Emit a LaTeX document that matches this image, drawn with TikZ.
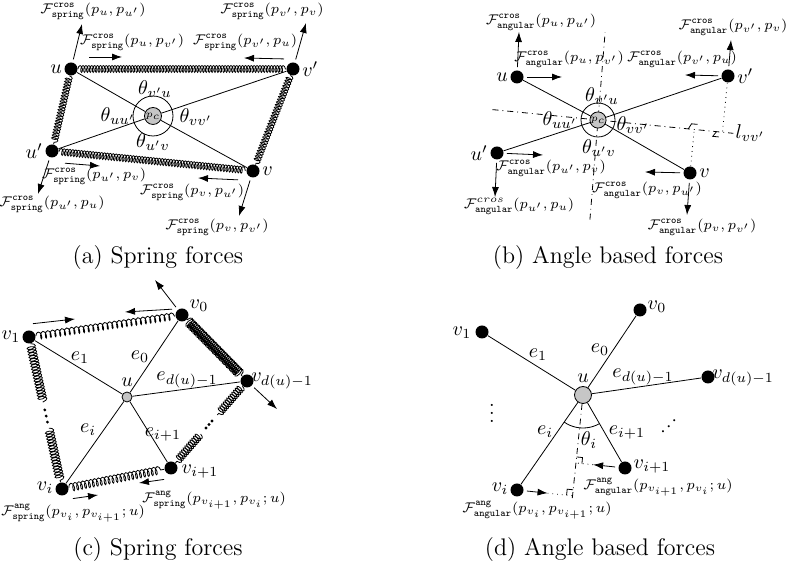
\documentclass[tikz,border=0pt]{standalone}
\usepackage{amsmath,amssymb}
\usetikzlibrary{arrows.meta,positioning,calc,decorations.pathmorphing}

\newcommand{\Fcs}[1]{\mathcal{F}^{\mathtt{cros}}_{\mathtt{spring}}(#1)}
\newcommand{\Fca}[1]{\mathcal{F}^{\mathtt{cros}}_{\mathtt{angular}}(#1)}
\newcommand{\Fas}[1]{\mathcal{F}^{\mathtt{ang}}_{\mathtt{spring}}(#1)}
\newcommand{\Faa}[1]{\mathcal{F}^{\mathtt{ang}}_{\mathtt{angular}}(#1)}

%% right angle mark: foot, point on the line, point off the line
\newcommand{\rmark}[3]{%
  \coordinate (rmA) at ($(#1)!3pt!(#2)$);
  \coordinate (rmB) at ($(#1)!3pt!(#3)$);
  \draw (rmA) -- ($(rmA)+(rmB)-(#1)$) -- (rmB);
}

\begin{document}
\begin{tikzpicture}[x=0.5pt, y=-0.5pt,
  vtx/.style={circle, fill=black, inner sep=0pt, minimum size=6.5pt},
  hub/.style={circle, draw, fill=gray!45, inner sep=0pt, minimum size=#1, font=\tiny},
  frc/.style={-{Latex[length=5pt,width=3.5pt]}, shorten <=1.5pt},
  flab/.style={font=\scriptsize, inner sep=0pt},
  lab/.style={inner sep=1pt},
  coilsp/.style 2 args={decorate, decoration={coil, aspect=0.45, amplitude=#1, segment length=#2}},
  bisec/.style={dash dot},
  proj/.style={dotted},
]

\useasboundingbox (0,0) rectangle (787,565);

%% ---------------- (a) cross spring forces ----------------
\node[vtx] (au)  at (71,69)   {};
\node[vtx] (avp) at (293,69)  {};
\node[vtx] (aup) at (52,151)  {};
\node[vtx] (av)  at (253,171) {};
\node[hub=8.5pt] (apc) at (153,116) {$p_c$};
\draw (apc) circle[radius=10pt];
\draw (au) -- (apc);
\draw (apc) -- (av);
\draw (aup) -- (apc);
\draw (apc) -- (avp);

\draw[coilsp={1.7pt}{1.45pt}] (au) -- (avp);
\draw[coilsp={1.7pt}{1.45pt}] (aup) -- (av);
\draw[coilsp={1.7pt}{1.45pt}] (au) -- (aup);
\draw[coilsp={1.7pt}{1.45pt}] (avp) -- (av);

\node[lab, left=0pt of au]   (lau)  {$u$};
\node[lab, right=0pt of avp] (lavp) {$v'$};
\node[lab, left=0pt of aup]  (laup) {$u'$};
\node[lab, right=0pt of av]  (lav)  {$v$};

\node[lab] (tha1) at (155,89)  {$\theta_{v'u}$};
\node[lab] (tha2) at (118,116) {$\theta_{uu'}$};
\node[lab] (tha3) at (196,117) {$\theta_{vv'}$};
\node[lab] (tha4) at (153,142) {$\theta_{u'v}$};

\coordinate (ea1) at (82,24);
\coordinate (sa2) at (86,57);   \coordinate (ea2) at (122,57);
\coordinate (sa3) at (287,59);  \coordinate (ea3) at (244,58);
\coordinate (ea4) at (306,23);
\coordinate (sa5) at (62,163);  \coordinate (ea5) at (100,166);
\coordinate (ea6) at (38,194);
\coordinate (sa7) at (241,180); \coordinate (ea7) at (198,178);
\coordinate (ea8) at (239,216);
\draw[frc] (au) -- (ea1);
\draw[frc] (sa2) -- (ea2);
\draw[frc] (sa3) -- (ea3);
\draw[frc] (avp) -- (ea4);
\draw[frc] (sa5) -- (ea5);
\draw[frc] (aup) -- (ea6);
\draw[frc] (sa7) -- (ea7);
\draw[frc] (av) -- (ea8);

\foreach \nm/\px/\py/\arg in {
  la1/93/11/{p_u,p_{u'}},
  la2/132/42/{p_u,p_{v'}},
  la3/245/42/{p_{v'},p_u},
  la4/272/11/{p_{v'},p_v},
  la5/94/176/{p_{u'},p_v},
  la6/52/204/{p_{u'},p_u},
  la7/192/192/{p_v,p_{u'}},
  la8/217/227/{p_v,p_{v'}}%
}{
  \node[flab] (\nm) at (\px,\py) {$\Fcs{\arg}$};
}

\node[font=\large] (capa) at (158,258) {(a) Spring forces};

%% ---------------- (b) cross angular forces ----------------
\coordinate (bpc) at (598,120);
\node[vtx] (bu)  at (517,77)  {};
\node[vtx] (bvp) at (728,76)  {};
\node[vtx] (bup) at (497,153) {};
\node[vtx] (bv)  at (690,173) {};

%% bisectors of theta_{vv'} and theta_{v'u}
\coordinate (bq1) at ($(bpc)!10pt!(bv)$);
\coordinate (bq2) at ($(bpc)!10pt!(bvp)$);
\coordinate (bq3) at ($(bpc)!10pt!(bu)$);
\coordinate (bmh) at ($(bq1)!0.5!(bq2)$);
\coordinate (bmv) at ($(bq3)!0.5!(bq2)$);
\draw[bisec] ($(bpc)!-53pt!(bmh)$) -- ($(bpc)!68pt!(bmh)$) coordinate (bl);
\draw[bisec] ($(bpc)!-50pt!(bmv)$) -- ($(bpc)!44pt!(bmv)$);
\coordinate (bf1) at ($(bpc)!(bvp)!(bmh)$);
\coordinate (bf2) at ($(bpc)!(bv)!(bmh)$);
\draw[proj] (bvp) -- (bf1);
\draw[proj] (bv) -- (bf2);
\rmark{bf1}{bpc}{bv}
\rmark{bf2}{bpc}{bvp}
\node[lab, right=0pt of bl] (lbl) {$l_{vv'}$};

\node[hub=7.5pt] (bpcn) at (bpc) {$p_c$};
\draw (bpcn) circle[radius=8.5pt];
\draw (bu) -- (bpcn);
\draw (bpcn) -- (bv);
\draw (bup) -- (bpcn);
\draw (bpcn) -- (bvp);

\node[lab, left=0pt of bu]   (lbu)  {$u$};
\node[lab, right=0pt of bvp] (lbvp) {$v'$};
\node[lab, left=0pt of bup]  (lbup) {$u'$};
\node[lab, right=0pt of bv]  (lbv)  {$v$};

\node[lab] (thb1) at (602,96)  {$\theta_{v'u}$};
\node[lab] (thb2) at (560,120) {$\theta_{uu'}$};
\node[lab] (thb3) at (633,125) {$\theta_{vv'}$};
\node[lab] (thb4) at (599,148) {$\theta_{u'v}$};

\coordinate (eb1) at (519,32);
\coordinate (eb2) at (562,77);
\coordinate (eb3) at (685,75);
\coordinate (eb4) at (731,40);
\coordinate (eb5) at (543,155);
\coordinate (eb6) at (495,197);
\coordinate (eb7) at (645,172);
\coordinate (eb8) at (687,215);
\draw[frc] (bu) -- (eb1);
\draw[frc] (bu) -- (eb2);
\draw[frc] (bvp) -- (eb3);
\draw[frc] (bvp) -- (eb4);
\draw[frc] (bup) -- (eb5);
\draw[frc] (bup) -- (eb6);
\draw[frc] (bv) -- (eb7);
\draw[frc] (bv) -- (eb8);

\foreach \nm/\px/\py/\arg in {
  lb1/541/22/{p_u,p_{u'}},
  lb2/569/59/{p_u,p_{v'}},
  lb3/682/59/{p_{v'},p_u},
  lb4/733/27/{p_{v'},p_v},
  lb5/551/168/{p_{u'},p_v},
  lb7/647/190/{p_v,p_{u'}},
  lb8/702/227/{p_v,p_{v'}}%
}{
  \node[flab] (\nm) at (\px,\py) {$\Fca{\arg}$};
}
\node[flab] (lb6) at (519,206) {$\mathcal{F}^{cros}_{\mathtt{angular}}(p_{u'},p_u)$};

\node[font=\large] (capb) at (608,258) {(b) Angle based forces};

%% ---------------- (c) spring forces around u ----------------
\node[vtx] (cv0)  at (182,315) {};
\node[vtx] (cv1)  at (29,337)  {};
\node[vtx] (cvd)  at (247,381) {};
\node[vtx] (cvi1) at (171,468) {};
\node[vtx] (cvi)  at (62,489)  {};
\node[hub=5pt] (cu) at (127,397) {};
\foreach \n in {cv0,cv1,cvd,cvi1,cvi} \draw (cu) -- (\n);

\coordinate (cr1) at ($(cvd)!0.39!(cvi1)$);
\coordinate (cr2) at ($(cvd)!0.61!(cvi1)$);
\coordinate (cl1) at ($(cv1)!0.43!(cvi)$);
\coordinate (cl2) at ($(cv1)!0.60!(cvi)$);
\draw[coilsp={1.8pt}{2.4pt}] (cv1) -- (cv0);
\draw[coilsp={2.5pt}{1pt}] (cv0) -- (cvd);
\draw[coilsp={2pt}{1.3pt}] (cvd) -- (cr1);
\draw[coilsp={2pt}{1.3pt}] (cr2) -- (cvi1);
\draw[coilsp={2.2pt}{1.5pt}] (cv1) -- (cl1);
\draw[coilsp={2.2pt}{1.5pt}] (cl2) -- (cvi);
\draw[coilsp={2pt}{2pt}] (cvi) -- (cvi1);
\foreach \t in {0.46,0.50,0.54} {
  \fill ($(cvd)!\t!(cvi1)$) circle[radius=0.8pt];
  \fill ($(cv1)!\t+0.02!(cvi)$) circle[radius=0.8pt];
}

\coordinate (sc1) at (30,324);  \coordinate (ec1) at (75,319);
\coordinate (sc2) at (175,309); \coordinate (ec2) at (125,312);
\coordinate (ec3) at (155,280);
\coordinate (ec4) at (277,409);
\coordinate (sc5) at (167,479); \coordinate (ec5) at (139,483);
\coordinate (sc6) at (70,499);  \coordinate (ec6) at (98,495);
\draw[frc] (sc1) -- (ec1);
\draw[frc] (sc2) -- (ec2);
\draw[frc] (cv0) -- (ec3);
\draw[frc] (cvd) -- (ec4);
\draw[frc] (sc5) -- (ec5);
\draw[frc] (sc6) -- (ec6);

\node[lab] (lcv0)  at (199,306) {$v_0$};
\node[lab] (lcv1)  at (11,337)  {$v_1$};
\node[lab] (lcvd)  at (282,381) {$v_{d(u)-1}$};
\node[lab] (lcvi1) at (200,472) {$v_{i+1}$};
\node[lab] (lcvi)  at (45,488)  {$v_i$};
\node[lab] (lcu)   at (127,382) {$u$};
\node[lab] (lce1)  at (80,358)  {$e_1$};
\node[lab] (lce0)  at (140,357) {$e_0$};
\node[lab] (lced)  at (187,380) {$e_{d(u)-1}$};
\node[lab] (lcei)  at (88,430)  {$e_i$};
\node[lab] (lcei1) at (163,435) {$e_{i+1}$};

\node[flab] (lc1) at (214,500) {$\Fas{p_{v_{i+1}},p_{v_i};u}$};
\node[flab] (lc2) at (73,513)  {$\Fas{p_{v_i},p_{v_{i+1}};u}$};

\node[font=\large] (capc) at (158,550) {(c) Spring forces};

%% ---------------- (d) angular forces around u ----------------
\node[vtx] (dv0)  at (640,310) {};
\node[vtx] (dv1)  at (482,332) {};
\node[vtx] (dvd)  at (708,377) {};
\node[vtx] (dvi1) at (625,468) {};
\node[vtx] (dvi)  at (517,490) {};
\node[hub=8.5pt] (du) at (583,395) {};
\foreach \n in {dv0,dv1,dvd,dvi1,dvi} \draw (du) -- (\n);

%% bisector of theta_i and the feet of v_i, v_{i+1}
\coordinate (dbe) at (572,501);
\draw[bisec] (du) -- (dbe);
\coordinate (df1) at ($(du)!(dvi1)!(dbe)$);
\coordinate (df0) at ($(du)!(dvi)!(dbe)$);
\coordinate (da1) at ($(dvi1)!0.65!(df1)$);
\coordinate (da0) at ($(dvi)!0.55!(df0)$);
\draw[frc] (dvi1) -- (da1);
\draw[proj] (da1) -- (df1);
\draw[frc] (dvi) -- (da0);
\draw[proj] (da0) -- (df0);
\rmark{df1}{du}{dvi1}
\rmark{df0}{du}{dvi}

\begin{scope}
  \clip (du.center) -- ($(du)!3!(dvi)$) -- ($(du)!3!(dvi1)$) -- cycle;
  \draw (du) circle[radius=16.5pt];
\end{scope}

\node[inner sep=0pt] (ddl) at (492,407) {$\vdots$};
\node[inner sep=0pt, rotate=-45] (ddr) at (673,422) {$\vdots$};

\node[lab] (ldv0)  at (657,307) {$v_0$};
\node[lab] (ldv1)  at (462,333) {$v_1$};
\node[lab] (ldvd)  at (743,378) {$v_{d(u)-1}$};
\node[lab] (ldvi1) at (652,467) {$v_{i+1}$};
\node[lab] (ldvi)  at (500,489) {$v_i$};
\node[lab] (ldu)   at (583,378) {$u$};
\node[lab] (lde1)  at (538,355) {$e_1$};
\node[lab] (lde0)  at (600,350) {$e_0$};
\node[lab] (lded)  at (643,377) {$e_{d(u)-1}$};
\node[lab] (ldei)  at (545,432) {$e_i$};
\node[lab] (ldei1) at (627,433) {$e_{i+1}$};
\node[lab] (ldth)  at (589,440) {$\theta_i$};

\node[flab] (ld1) at (658,487) {$\Faa{p_{v_{i+1}},p_{v_i};u}$};
\node[flab] (ld2) at (537,510) {$\Faa{p_{v_i},p_{v_{i+1}};u}$};

\node[font=\large] (capd) at (600,550) {(d) Angle based forces};

\end{tikzpicture}
\end{document}
